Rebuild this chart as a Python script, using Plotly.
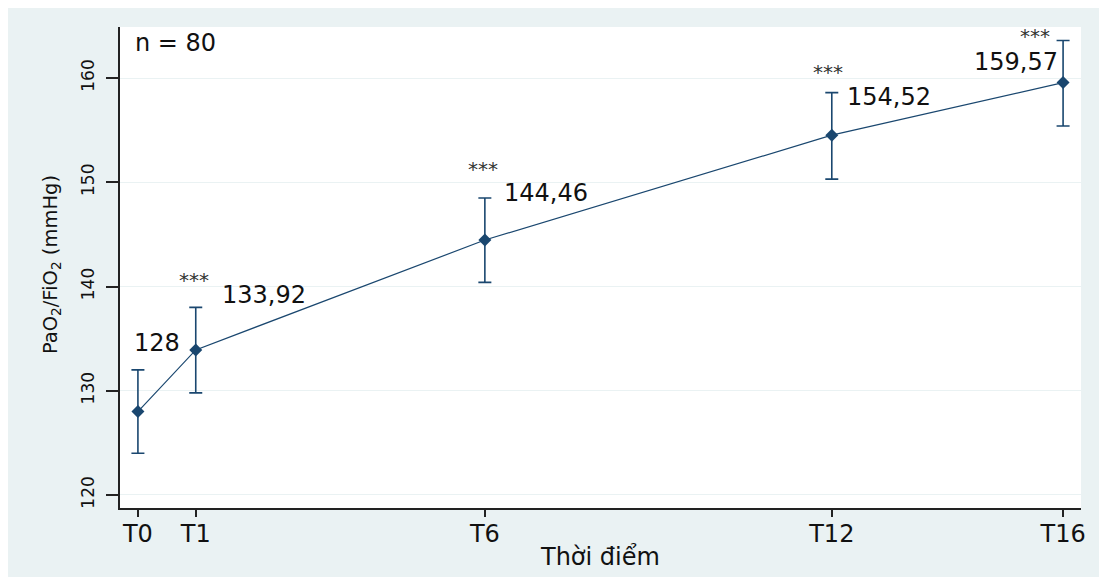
import plotly.graph_objects as go

# Data
time_pos = [0, 1, 6, 12, 16]
time_labels = ["T0", "T1", "T6", "T12", "T16"]
mean_vals = [128.0, 133.92, 144.46, 154.52, 159.57]
ci_low = [124.0, 129.8, 140.4, 150.3, 155.4]
ci_high = [132.0, 138.0, 148.5, 158.6, 163.6]
value_texts = ["128", "133,92", "144,46", "154,52", "159,57"]
star_texts = ["", "***", "***", "***", "***"]
y_ticks = [120, 130, 140, 150, 160]

NAVY = "#1A476F"
BG = "#EAF2F3"
FONT = "DejaVu Sans"

err_plus = [h - m for h, m in zip(ci_high, mean_vals)]
err_minus = [m - l for m, l in zip(mean_vals, ci_low)]

fig = go.Figure()
fig.add_trace(go.Scatter(
    x=time_pos, y=mean_vals, mode="lines+markers",
    line=dict(color=NAVY, width=1.2),
    marker=dict(symbol="diamond", size=10, color=NAVY),
    error_y=dict(type="data", symmetric=False, array=err_plus, arrayminus=err_minus,
                 color=NAVY, thickness=1.6, width=6.5),
    showlegend=False, hoverinfo="skip",
))

lab_pos = [
    (0.76, 134.57, "right"),
    (1.42, 139.18, "left"),
    (6.30, 148.95, "left"),
    (12.23, 158.16, "left"),
    (15.95, 161.5, "right"),
]
annotations = []
for (lx, ly, anc), t in zip(lab_pos, value_texts):
    annotations.append(dict(x=lx, y=ly, xref="x", yref="y", text=t, showarrow=False,
                            xanchor=anc, yanchor="middle",
                            font=dict(family=FONT, size=24, color="#111111")))
star_pos = [None, (0.97, 141.0), (5.97, 151.64), (11.94, 160.94), (15.52, 164.4)]
for sp, t in zip(star_pos, star_texts):
    if sp is None or not t:
        continue
    annotations.append(dict(x=sp[0], y=sp[1], xref="x", yref="y", text=t, showarrow=False,
                            xanchor="center", yanchor="middle", yshift=-4,
                            font=dict(family=FONT, size=20, color="#333333")))

annotations.append(dict(x=0.0135, y=0.967, xref="paper", yref="paper", text="n = 80",
                        showarrow=False, xanchor="left", yanchor="middle",
                        font=dict(family=FONT, size=24, color="#111111")))
annotations.append(dict(x=-0.0718, y=0.505, xref="paper", yref="paper",
                        text="PaO<sub>2</sub>/FiO<sub>2</sub> (mmHg)", textangle=-90,
                        showarrow=False, xanchor="center", yanchor="middle",
                        font=dict(family=FONT, size=19.5, color="#111111")))
annotations.append(dict(x=0.4995, y=-0.102, xref="paper", yref="paper",
                        text="Thời điểm", showarrow=False, xanchor="center", yanchor="middle",
                        font=dict(family=FONT, size=24, color="#111111")))

# page body has an 8px margin, so the figure is sized to fit the window
W, H = 1099, 577
L, R, T, B = 112, 26, 19, 77
pw, ph = W - L - R, H - T - B
shapes = [
    dict(type="rect", xref="paper", yref="paper", layer="below",
         x0=-L / pw, x1=(W - L) / pw, y0=-(B - 8) / ph, y1=1 + T / ph,
         fillcolor=BG, line=dict(width=0)),
    dict(type="rect", xref="paper", yref="paper", layer="below",
         x0=0, x1=1, y0=0, y1=1, fillcolor="white", line=dict(width=0)),
]

fig.update_layout(
    width=W, height=H,
    margin=dict(l=L, r=R, t=T, b=B, autoexpand=False),
    paper_bgcolor="white", plot_bgcolor="white",
    annotations=annotations, shapes=shapes,
    font=dict(family=FONT, color="#111111"),
    xaxis=dict(range=[-0.31, 16.31], tickmode="array", tickvals=time_pos, ticktext=time_labels,
               automargin=False, ticklabelstandoff=-4,
               showgrid=False, zeroline=False, showline=True, linecolor="#222222", linewidth=1.5,
               ticks="outside", ticklen=7, tickwidth=1.5, tickcolor="#222222",
               tickfont=dict(family=FONT, size=24, color="#111111")),
    yaxis=dict(range=[118.75, 164.9], tickmode="array", tickvals=y_ticks, automargin=False,
               ticklabelstandoff=5,
               showgrid=True, gridcolor=BG, gridwidth=1.2, zeroline=False,
               showline=True, linecolor="#222222", linewidth=1.5,
               ticks="outside", ticklen=12, tickwidth=1.5, tickcolor="#222222",
               tickangle=-90, tickfont=dict(family=FONT, size=17, color="#111111")),
)

fig.write_html("out.html")
